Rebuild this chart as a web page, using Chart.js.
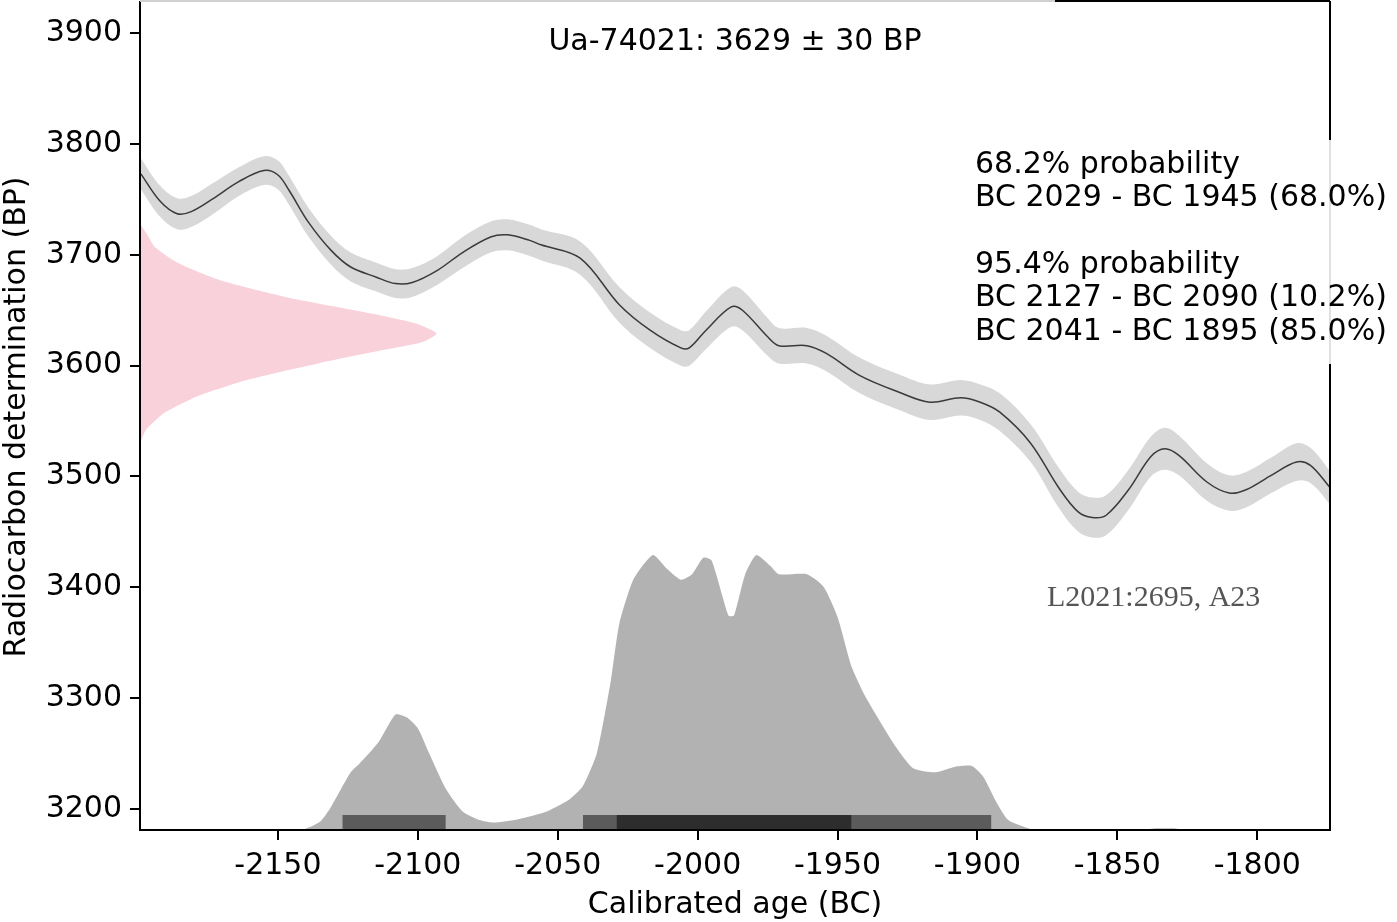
<!DOCTYPE html>
<html>
<head>
<meta charset="utf-8">
<script src="https://cdn.jsdelivr.net/npm/chart.js@4.4.1/dist/chart.umd.min.js"></script>
<style>
  html, body { margin: 0; padding: 0; background: #fff; }
  #wrap { width: 1397px; height: 922px; }
</style>
</head>
<body>
<div id="wrap"><canvas id="calChart" width="1397" height="922"></canvas></div>
<script>
// calibration curve (IntCal)
const curveYears = [-2199, -2192, -2186, -2181, -2173, -2164, -2155, -2150, -2146, -2139, -2131, -2124, -2115, -2108, -2102, -2093, -2084, -2074, -2068, -2060, -2056, -2042, -2028, -2017, -2006, -2003, -1997, -1988, -1984, -1975, -1971, -1961, -1954, -1942, -1928, -1917, -1906, -1899, -1892, -1881, -1871, -1864, -1859, -1854, -1846, -1838, -1833, -1828, -1818, -1810, -1804, -1795, -1786, -1781, -1774];
const curveBP = [3773, 3748, 3737, 3739, 3751, 3766, 3776, 3772, 3758, 3729, 3704, 3689, 3680, 3674, 3675, 3686, 3702, 3716, 3718, 3713, 3709, 3697, 3655, 3632, 3616, 3616, 3632, 3653, 3650, 3626, 3618, 3618, 3611, 3591, 3576, 3567, 3571, 3567, 3558, 3530, 3490, 3468, 3463, 3465, 3488, 3518, 3525, 3519, 3495, 3485, 3488, 3501, 3513, 3510, 3490];
const curveErr = [14, 14, 14, 14, 14, 13, 13, 13, 13, 13, 13, 13, 13, 13, 13, 13, 14, 14, 14, 14, 14, 15, 16, 16, 16, 16, 17, 18, 18, 17, 16, 16, 16, 16, 16, 16, 16, 16, 17, 17, 18, 18, 18, 18, 18, 18, 19, 18, 17, 16, 16, 16, 17, 16, 15];

// measured date 3629 +/- 30 BP (relative density along the BP axis)
const dateBP = [3728, 3718, 3707, 3693, 3677, 3662, 3647, 3638, 3629, 3621, 3614, 3602, 3587, 3572, 3557, 3542, 3530];
const dateDensity = [0, 0.025, 0.05, 0.125, 0.27, 0.49, 0.78, 0.93, 1.0, 0.95, 0.82, 0.6, 0.36, 0.19, 0.08, 0.02, 0];
const dateSpanYears = 106;

// calibrated probability distribution (relative)
const calYears = [-2199, -2142, -2135, -2131, -2124, -2121, -2114, -2108, -2104, -2100, -2096, -2090, -2084, -2078, -2073, -2064, -2054, -2046, -2041, -2036, -2031, -2028, -2023, -2016, -2011, -2006, -2002, -1998, -1995, -1989, -1987, -1983, -1979, -1974, -1971, -1961, -1955, -1950, -1945, -1940, -1929, -1923, -1915, -1908, -1902, -1898, -1893, -1889, -1881, -1879, -1841, -1836, -1830, -1826, -1774];
const calProb = [0, 0, 0.03, 0.085, 0.21, 0.24, 0.32, 0.42, 0.41, 0.37, 0.28, 0.15, 0.067, 0.036, 0.027, 0.039, 0.067, 0.11, 0.16, 0.28, 0.545, 0.75, 0.91, 1.0, 0.95, 0.91, 0.93, 0.99, 0.98, 0.78, 0.78, 0.93, 1.0, 0.96, 0.93, 0.93, 0.885, 0.775, 0.595, 0.485, 0.3, 0.225, 0.21, 0.23, 0.233, 0.195, 0.097, 0.036, 0.003, 0, 0, 0.006, 0.006, 0, 0];

// highest density ranges [from, to]
const range68 = [[-2029, -1945]];
const range95 = [[-2127, -2090], [-2041, -1895]];

const xTicks = [-2150, -2100, -2050, -2000, -1950, -1900, -1850, -1800];
const yTicks = [3200, 3300, 3400, 3500, 3600, 3700, 3800, 3900];

const titleText = "Ua-74021: 3629 \u00b1 30 BP";
const probLines = ["68.2% probability", "BC 2029 - BC 1945 (68.0%)", "", "95.4% probability", "BC 2127 - BC 2090 (10.2%)", "BC 2041 - BC 1895 (85.0%)"];
const sampleLabel = "L2021:2695, A23";

const X_MIN = -2199.3, X_MAX = -1774;
const Y_MIN = 3181, Y_MAX = 3929;
const BAR_TOP = 3194.5;
const FONT = "'DejaVu Sans', sans-serif";

const pts = (xs, ys) => xs.map((x, i) => ({ x: x, y: ys[i] }));
const bandUpper = curveYears.map((x, i) => ({ x: x, y: curveBP[i] + curveErr[i] }));
const bandLower = curveYears.map((x, i) => ({ x: x, y: curveBP[i] - curveErr[i] }));
const pinkShape = dateBP.map((bp, i) => ({ x: X_MIN + dateDensity[i] * dateSpanYears, y: bp }));

const rangeSets = [];
range95.forEach(r => rangeSets.push({
  data: [{ x: r[0], y: BAR_TOP }, { x: r[1], y: BAR_TOP }],
  backgroundColor: "#5b5b5b", fill: "start", borderWidth: 0, pointRadius: 0, order: 2
}));
range68.forEach(r => rangeSets.push({
  data: [{ x: r[0], y: BAR_TOP }, { x: r[1], y: BAR_TOP }],
  backgroundColor: "#2d2d2d", fill: "start", borderWidth: 0, pointRadius: 0, order: 1
}));

const frame = {
  id: "frame",
  afterDraw(chart) {
    const c = chart.ctx, a = chart.chartArea;
    c.save();
    // spines
    c.strokeStyle = "#000";
    c.lineWidth = 2;
    c.beginPath();
    c.moveTo(a.left, a.top); c.lineTo(a.left, a.bottom); c.lineTo(a.right, a.bottom); c.lineTo(a.right, a.top);
    c.moveTo(1055, a.top); c.lineTo(a.right, a.top);
    c.stroke();
    c.strokeStyle = "#d0d0d0";
    c.beginPath(); c.moveTo(a.left, a.top); c.lineTo(1055, a.top); c.stroke();

    // title
    c.fillStyle = "#000";
    c.font = "30px " + FONT;
    c.textAlign = "center";
    c.textBaseline = "middle";
    c.fillText(titleText, (a.left + a.right) / 2, 42);

    // probability box
    c.fillStyle = "rgba(255,255,255,0.88)";
    c.fillRect(965, 140, 432, 224);
    c.fillStyle = "#000";
    c.textAlign = "left";
    probLines.forEach((t, i) => c.fillText(t, 975, 165 + i * 33.4));

    // sample label
    c.fillStyle = "#555";
    c.font = "30px 'Liberation Serif', serif";
    c.fillText(sampleLabel, 1047, 598);

    // axis titles
    c.fillStyle = "#000";
    c.font = "30px " + FONT;
    c.textAlign = "center";
    c.fillText("Calibrated age (BC)", (a.left + a.right) / 2, 905);
    c.translate(17, 417);
    c.rotate(-Math.PI / 2);
    c.fillText("Radiocarbon determination (BP)", 0, 0);
    c.restore();
  }
};

new Chart(document.getElementById("calChart"), {
  type: "line",
  data: {
    datasets: [
      { data: pts(curveYears, curveBP), borderColor: "#3a3a3a", borderWidth: 1.5, pointRadius: 0, tension: 0.35, fill: false, order: 0 },
      ...rangeSets,
      { data: pts(calYears, calProb), yAxisID: "y2", backgroundColor: "#b2b2b2", borderWidth: 0, pointRadius: 0, tension: 0.2, fill: "start", order: 3 },
      { data: bandUpper, backgroundColor: "#d8d8d8", borderWidth: 0, pointRadius: 0, tension: 0.35, fill: "+1", order: 4 },
      { data: bandLower, borderWidth: 0, pointRadius: 0, tension: 0.35, fill: false, order: 5 },
      { data: pinkShape, backgroundColor: "#f9d1da", borderWidth: 0, pointRadius: 0, tension: 0.2, fill: "shape", order: 6 }
    ]
  },
  options: {
    responsive: false,
    animation: false,
    devicePixelRatio: 1,
    layout: { padding: { left: 0, top: 1, right: 67, bottom: 0 } },
    plugins: { legend: { display: false }, tooltip: { enabled: false } },
    scales: {
      x: {
        type: "linear",
        min: X_MIN,
        max: X_MAX,
        afterBuildTicks: s => { s.ticks = xTicks.map(v => ({ value: v })); },
        afterFit: s => { s.height = 92; s.paddingLeft = 0; s.paddingRight = 0; },
        ticks: { color: "#000", font: { family: FONT, size: 30 }, padding: 8, maxRotation: 0, autoSkip: false, callback: v => String(v) },
        grid: { drawOnChartArea: false, drawTicks: true, tickLength: 10, color: "#000", lineWidth: 2 },
        border: { display: false }
      },
      y: {
        min: Y_MIN,
        max: Y_MAX,
        afterBuildTicks: s => { s.ticks = yTicks.map(v => ({ value: v })); },
        afterFit: s => { s.width = 140; s.paddingTop = 0; s.paddingBottom = 0; },
        ticks: { color: "#000", font: { family: FONT, size: 30 }, padding: 8, autoSkip: false, callback: v => String(v) },
        grid: { drawOnChartArea: false, drawTicks: true, tickLength: 10, color: "#000", lineWidth: 2 },
        border: { display: false }
      },
      y2: { display: false, min: 0, max: 3.015 }
    }
  },
  plugins: [frame]
});
</script>
</body>
</html>
